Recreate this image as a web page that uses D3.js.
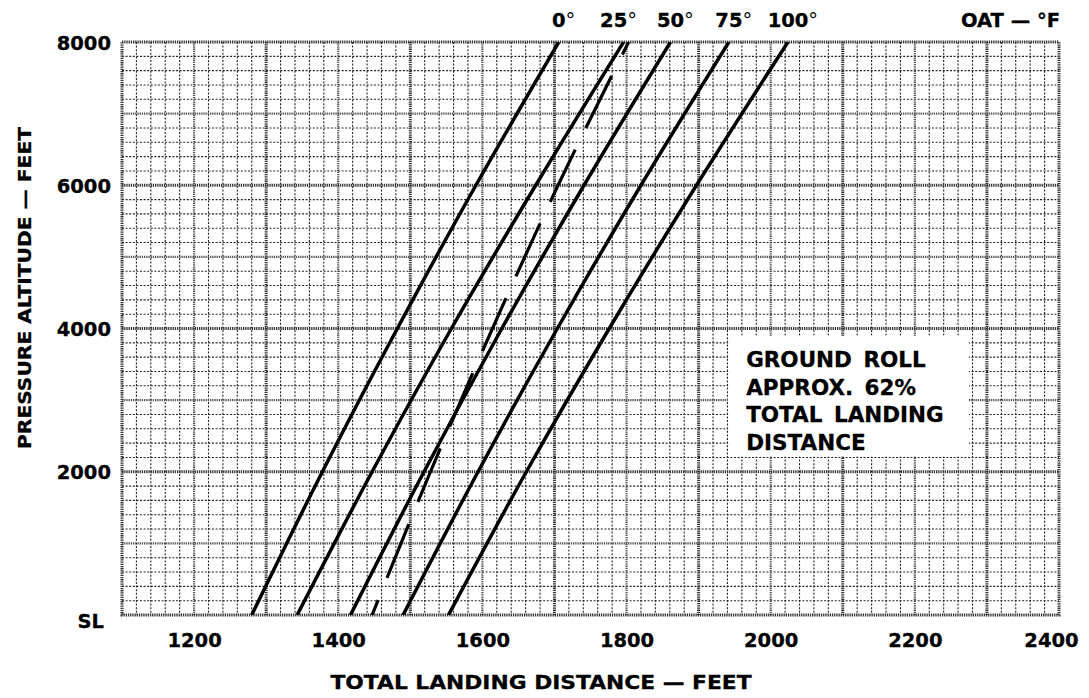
<!DOCTYPE html>
<html>
<head>
<meta charset="utf-8">
<script src="https://cdn.jsdelivr.net/npm/d3@7"></script>
<style>
  html, body { margin: 0; padding: 0; background: #fff; }
  svg { display: block; }
  text { font-family: "DejaVu Sans", Verdana, sans-serif; font-weight: bold; fill: #000;
         stroke: #000; stroke-width: 0.3; }
</style>
</head>
<body>
<svg id="chart" width="1089" height="698"></svg>
<script>
// Pressure altitude (ft) at which each curve is sampled
const altitudes = [0, 2000, 4000, 6000, 8000];

// Total landing distance (ft) for each outside air temperature
const oat0   = [1280, 1378, 1482, 1591, 1706];
const oat25  = [1343, 1447, 1557, 1674, 1796];
const oat50  = [1417, 1519, 1627, 1741, 1861];
const oat75  = [1490, 1594, 1704, 1820, 1942];
const oat100 = [1553, 1661, 1776, 1897, 2024];

// Standard-day temperature line (dashed)
const standardDay = [1447, 1528, 1614, 1705, 1803];

const oatLabels = ["0°", "25°", "50°", "75°", "100°"];

// Axis ticks
const xTickValues = [1200, 1400, 1600, 1800, 2000, 2200, 2400];
const yTickValues = [0, 2000, 4000, 6000, 8000];
const yTickLabels = ["SL", "2000", "4000", "6000", "8000"];

const noteLines = ["GROUND ROLL", "APPROX. 62%", "TOTAL LANDING", "DISTANCE"];

const xTitle = "TOTAL LANDING DISTANCE — FEET";
const yTitle = "PRESSURE ALTITUDE — FEET";
const oatTitle = "OAT — °F";

// ---- layout ----
const plot = { left: 122, right: 1059, top: 42, bottom: 615 };
const svg = d3.select("#chart");

const x = d3.scaleLinear().domain([1100, 2400]).range([plot.left, plot.right]);
const y = d3.scaleLinear().domain([0, 8000]).range([plot.bottom, plot.top]);

// ---- graph-paper grid ----
const grid = svg.append("g");

// fine lines: every 20 ft across, every 200 ft up
const minorX = d3.range(1100, 2400 + 1, 20).filter(v => v % 100 !== 0);
const minorY = d3.range(0, 8000 + 1, 200).filter(v => v % 1000 !== 0);

grid.selectAll("line.minx").data(minorX).join("line")
  .attr("x1", d => x(d)).attr("x2", d => x(d))
  .attr("y1", plot.top).attr("y2", plot.bottom)
  .attr("stroke", "#222").attr("stroke-width", 1.1)
  .attr("stroke-dasharray", "2,1.6");

grid.selectAll("line.miny").data(minorY).join("line")
  .attr("x1", plot.left).attr("x2", plot.right)
  .attr("y1", d => y(d)).attr("y2", d => y(d))
  .attr("stroke", "#222").attr("stroke-width", 1.1)
  .attr("stroke-dasharray", "2,1.6");

// heavier hatched lines: every 100 ft across, every 1000 ft up
const majorX = d3.range(1200, 2400, 100);
const majorY = d3.range(1000, 8000, 1000);

grid.selectAll("line.majx").data(majorX).join("line")
  .attr("x1", d => x(d)).attr("x2", d => x(d))
  .attr("y1", plot.top).attr("y2", plot.bottom)
  .attr("stroke", d => (d / 100) % 2 ? "#333" : "#555")
  .attr("stroke-width", d => (d / 100) % 2 ? 3 : 2.2)
  .attr("stroke-dasharray", "1.3,0.9");

grid.selectAll("line.majy").data(majorY).join("line")
  .attr("x1", plot.left).attr("x2", plot.right)
  .attr("y1", d => y(d)).attr("y2", d => y(d))
  .attr("stroke", d => (d / 1000) % 2 ? "#555" : "#333")
  .attr("stroke-width", d => (d / 1000) % 2 ? 2.2 : 3)
  .attr("stroke-dasharray", "1.3,0.9");

// frame
grid.append("rect")
  .attr("x", plot.left).attr("y", plot.top)
  .attr("width", plot.right - plot.left).attr("height", plot.bottom - plot.top)
  .attr("fill", "none").attr("stroke", "#333").attr("stroke-width", 3)
  .attr("stroke-dasharray", "1.3,0.9");

// ---- note panel ----
const note = svg.append("g");
note.append("rect")
  .attr("x", x(1941)).attr("y", y(3900))
  .attr("width", x(2275) - x(1941)).attr("height", y(2210) - y(3900))
  .attr("fill", "#fff");
note.selectAll("text").data(noteLines).join("text")
  .attr("x", x(1966))
  .attr("y", (d, i) => 367 + i * 27.7)
  .attr("font-size", 21.5)
  .attr("word-spacing", 4)
  .text(d => d);

// ---- curves ----
svg.append("clipPath").attr("id", "plotClip")
  .append("rect")
  .attr("x", plot.left).attr("y", plot.top)
  .attr("width", plot.right - plot.left).attr("height", plot.bottom - plot.top);

const line = d3.line()
  .x(d => x(d[0]))
  .y(d => y(d[1]))
  .curve(d3.curveMonotoneY);

const series = [oat0, oat25, oat50, oat75, oat100];
const curves = svg.append("g").attr("clip-path", "url(#plotClip)");

curves.selectAll("path.oat").data(series).join("path")
  .attr("d", s => line(s.map((v, i) => [v, altitudes[i]])))
  .attr("fill", "none").attr("stroke", "#000")
  .attr("stroke-width", 3.5).attr("stroke-linecap", "butt");

curves.append("path")
  .attr("d", line(standardDay.map((v, i) => [v, altitudes[i]])))
  .attr("fill", "none").attr("stroke", "#000")
  .attr("stroke-width", 3.2)
  .attr("stroke-dasharray", "58,24")
  .attr("stroke-dashoffset", 42);

// ---- temperature labels across the top ----
const labelNudge = [0, -10, 0, 0, 0];
svg.append("g").selectAll("text").data(oatLabels).join("text")
  .attr("x", (d, i) => x(series[i][series[i].length - 1]) + labelNudge[i])
  .attr("y", 27)
  .attr("font-size", 19.5)
  .each(function (d) {
    const t = d3.select(this);
    t.append("tspan").text(d.replace("°", ""));
    t.append("tspan").attr("font-weight", "normal").attr("stroke-width", 0).text("°");
  })
  .attr("dx", function () {
    // center the digits over the curve end
    const digits = this.firstChild.getComputedTextLength();
    return -digits / 2;
  });

svg.append("text")
  .attr("x", 1060).attr("y", 27)
  .attr("text-anchor", "end")
  .attr("font-size", 19.5)
  .text(oatTitle);

// ---- axes ----
const xAxis = d3.axisBottom(x).tickValues(xTickValues).tickSize(0).tickPadding(0)
  .tickFormat(d3.format("d"));
const gx = svg.append("g").attr("transform", `translate(0,${plot.bottom})`).call(xAxis);
gx.select(".domain").remove();
gx.selectAll("text")
  .attr("y", 32).attr("dy", 0)
  .attr("font-size", 19.5)
  .attr("font-family", null)
  .attr("dx", d => d === 2400 ? -8 : 0);

const yAxis = d3.axisLeft(y).tickValues(yTickValues).tickSize(0).tickPadding(0)
  .tickFormat((d, i) => yTickLabels[i]);
const gy = svg.append("g").attr("transform", `translate(${plot.left},0)`).call(yAxis);
gy.select(".domain").remove();
gy.selectAll("text")
  .attr("x", d => d === 0 ? -18 : -11)
  .attr("dy", d => d === 0 ? "0.62em" : "0.36em")
  .attr("font-size", 19.5)
  .attr("font-family", null);

// axis titles
svg.append("text")
  .attr("x", 541).attr("y", 689)
  .attr("text-anchor", "middle")
  .attr("font-size", 19)
  .attr("textLength", 421).attr("lengthAdjust", "spacingAndGlyphs")
  .text(xTitle);

svg.append("text")
  .attr("transform", "translate(31,288) rotate(-90)")
  .attr("text-anchor", "middle")
  .attr("font-size", 18)
  .attr("textLength", 322).attr("lengthAdjust", "spacingAndGlyphs")
  .text(yTitle);
</script>
</body>
</html>
